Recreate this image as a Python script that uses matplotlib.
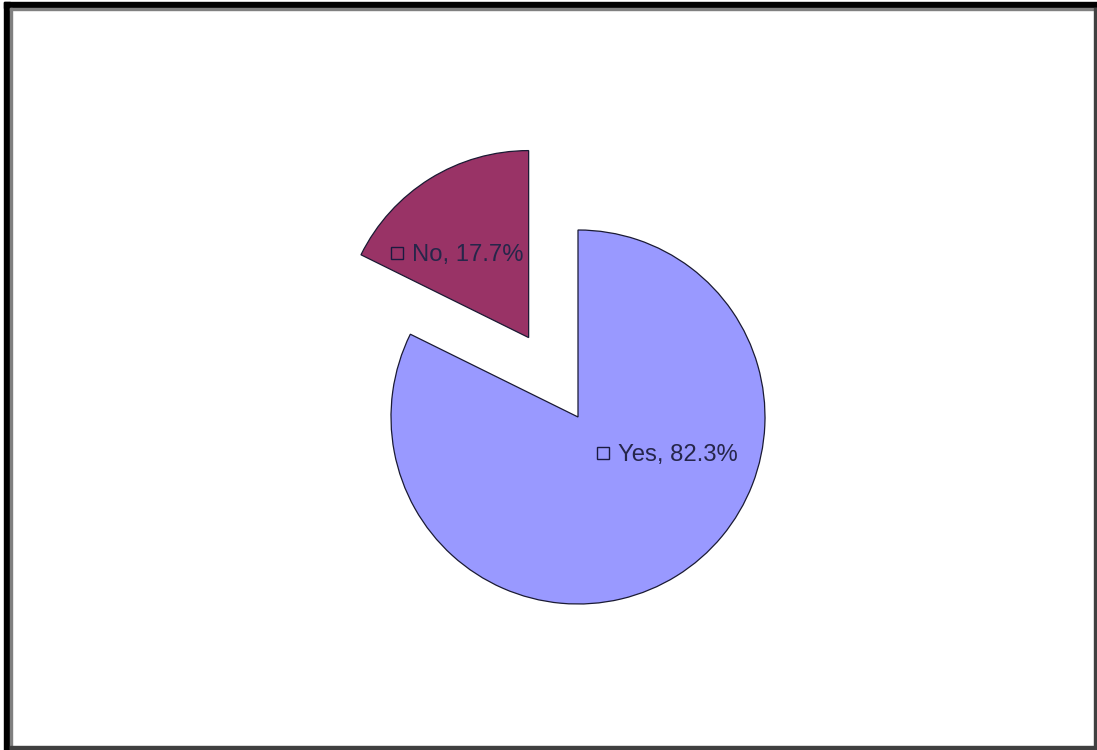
import matplotlib
matplotlib.use('Agg')
from matplotlib import pyplot as plt
from matplotlib.patches import Rectangle

# 数据
labels = ['Yes', 'No']
shares = [82.3, 17.7]
colors = ['#9999FF', '#993366']
explode = [0.0, 0.5]   # 相对半径

W, H = 1097, 750

fig = plt.figure(figsize=(W / 100, H / 100), dpi=100)
ax = fig.add_axes([0, 0, 1, 1])

# 饼图，中心和半径按像素
cx, cy, r = 578, H - 417, 187
ax.pie(shares, colors=colors, explode=[e * r for e in explode], startangle=90,
       counterclock=False, center=(cx, cy), radius=r,
       wedgeprops=dict(edgecolor='#1a1a33', linewidth=0.9), frame=True)
ax.set_xlim(0, W)
ax.set_ylim(0, H)
ax.set_aspect('equal')
ax.axis('off')

# 标签（小方块 + 文字）
label_pos = {'Yes': (603, H - 453), 'No': (397, H - 253)}
for name, val in zip(labels, shares):
    x, y = label_pos[name]
    ax.plot(x, y, marker='s', markersize=8, markerfacecolor='none',
            markeredgecolor='#1a1a40', markeredgewidth=1.0)
    ax.text(x + 15, y - 2, f'{name}, {val}%', fontsize=17.2, color='#26264a',
            family='Liberation Sans', va='center', ha='left')

# 外框
fig.patches.append(Rectangle((4 / W, 0), 6 / W, (H - 2) / H, transform=fig.transFigure,
                             color='black', zorder=5))
fig.patches.append(Rectangle((4 / W, (H - 8) / H), (W - 4) / W, 6 / H,
                             transform=fig.transFigure, color='black', zorder=5))
fig.patches.append(Rectangle((10 / W, 0), 2 / W, (H - 8) / H, transform=fig.transFigure,
                             color='#808080', zorder=5))
fig.patches.append(Rectangle((10 / W, (H - 10) / H), (W - 10) / W, 2 / H,
                             transform=fig.transFigure, color='#808080', zorder=5))
fig.patches.append(Rectangle(((W - 3) / W, 0), 2 / W, (H - 8) / H,
                             transform=fig.transFigure, color='#404040', zorder=5))
fig.patches.append(Rectangle((10 / W, 1 / H), (W - 12) / W, 3 / H,
                             transform=fig.transFigure, color='#404040', zorder=5))

plt.savefig('out.png', dpi=100)
